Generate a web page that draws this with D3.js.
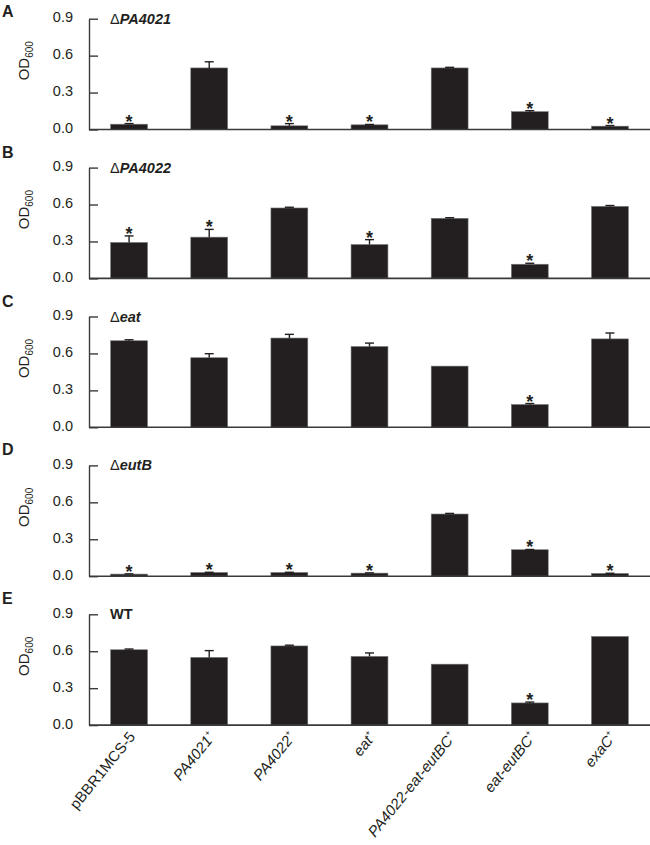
<!DOCTYPE html>
<html><head><meta charset="utf-8">
<script src="https://cdn.jsdelivr.net/npm/d3@7"></script>
<style>
body{margin:0;background:#fff;}
text{font-family:"Liberation Sans",Arial,sans-serif;fill:#231f20;}
</style></head>
<body><svg id="c" width="650" height="845"></svg>
<script>
const categories = ["pBBR1MCS-5","PA4021","PA4022","eat","PA4022-eat-eutBC","eat-eutBC","exaC"];
const panelLetters = ["A","B","C","D","E"];
const strains = ["PA4021","PA4022","eat","eutB","WT"];
const yTicks = [0.0,0.3,0.6,0.9];

const valuesA = [0.043,0.50,0.03,0.038,0.50,0.145,0.027];
const errorsA = [0.005,0.05,0.018,0.003,0.005,0.008,0.005];
const starsA  = [1,0,1,1,0,1,1];

const valuesB = [0.292,0.335,0.572,0.275,0.488,0.115,0.585];
const errorsB = [0.053,0.063,0.006,0.04,0.005,0.008,0.007];
const starsB  = [1,1,0,1,0,1,0];

const valuesC = [0.703,0.565,0.725,0.656,0.497,0.185,0.718];
const errorsC = [0.008,0.033,0.03,0.028,0,0.008,0.048];
const starsC  = [0,0,0,0,0,1,0];

const valuesD = [0.017,0.03,0.03,0.025,0.505,0.215,0.022];
const errorsD = [0.002,0.002,0.002,0.002,0.005,0.002,0.002];
const starsD  = [1,1,1,1,0,1,1];

const valuesE = [0.612,0.55,0.643,0.558,0.495,0.18,0.72];
const errorsE = [0.006,0.055,0.006,0.028,0,0.007,0];
const starsE  = [0,0,0,0,0,1,0];

const panelValues = [valuesA,valuesB,valuesC,valuesD,valuesE];
const panelErrors = [errorsA,errorsB,errorsC,errorsD,errorsE];
const panelStars  = [starsA,starsB,starsC,starsD,starsE];

const svg = d3.select("#c");
const dark = "#231f20", axisCol = "#3a3a3a";
const left = 89, right = 650, top0 = 18.7, step = 148.9, ph = 110.8;

const x = d3.scaleBand().domain(categories).range([left,right]).paddingInner(0.54).paddingOuter(0.27);

panelLetters.forEach((L,i)=>{
  const top = top0 + i*step, bottom = top + ph;
  const y = d3.scaleLinear().domain([0,0.9]).range([bottom,top]);
  const g = svg.append("g");
  const data = categories.map((c,j)=>({c, v:panelValues[i][j], e:panelErrors[i][j], s:panelStars[i][j]}));

  g.selectAll("rect.bar").data(data).enter().append("rect")
    .attr("x",d=>x(d.c)).attr("width",x.bandwidth())
    .attr("y",d=>y(d.v)).attr("height",d=>y(0)-y(d.v))
    .attr("fill",dark).attr("stroke","#777").attr("stroke-width",0.6);
  const eb = data.filter(d=>d.e>0);
  g.selectAll("line.ev").data(eb).enter().append("line")
    .attr("x1",d=>x(d.c)+x.bandwidth()/2).attr("x2",d=>x(d.c)+x.bandwidth()/2)
    .attr("y1",d=>y(d.v)).attr("y2",d=>y(d.v+d.e))
    .attr("stroke",dark).attr("stroke-width",1.4);
  g.selectAll("line.ec").data(eb).enter().append("line")
    .attr("x1",d=>x(d.c)+x.bandwidth()/2-4.5).attr("x2",d=>x(d.c)+x.bandwidth()/2+4.5)
    .attr("y1",d=>y(d.v+d.e)).attr("y2",d=>y(d.v+d.e))
    .attr("stroke",dark).attr("stroke-width",1.4);
  g.selectAll("text.star").data(data.filter(d=>d.s)).enter().append("text")
    .attr("x",d=>x(d.c)+x.bandwidth()/2).attr("y",d=>y(d.v+d.e)+4)
    .attr("text-anchor","middle").attr("font-size",18).attr("font-weight","bold").text("*");

  const ya = g.append("g").attr("transform",`translate(${left},0)`)
    .call(d3.axisLeft(y).tickValues(yTicks).tickFormat(d3.format(".1f")).tickSizeInner(-9).tickSizeOuter(0).tickPadding(16));
  ya.select(".domain").attr("stroke",axisCol).attr("stroke-width",1.4);
  ya.selectAll(".tick line").attr("stroke",axisCol).attr("stroke-width",1.4);
  ya.selectAll(".tick text").attr("font-size",14.5).attr("font-family","Liberation Sans, Arial, sans-serif").attr("fill",dark).attr("dy","0.22em");
  g.append("line").attr("x1",left).attr("x2",right).attr("y1",bottom).attr("y2",bottom)
    .attr("stroke",axisCol).attr("stroke-width",1.6);

  const yl = g.append("text").attr("transform",`translate(29,${top+42}) rotate(-90)`)
    .attr("text-anchor","middle").attr("font-size",15);
  yl.append("tspan").text("OD");
  yl.append("tspan").attr("font-size",10).attr("dy",4).text("600");

  g.append("text").attr("x",2).attr("y", i===0 ? 16.8 : top-10)
    .attr("font-size",16).attr("font-weight","bold").text(L);

  const t = g.append("text").attr("x",110).attr("y",top+5).attr("font-size",14.5);
  if (strains[i]==="WT") {
    t.append("tspan").attr("font-weight","bold").text("WT");
  } else {
    t.append("tspan").text("\u0394");
    t.append("tspan").attr("font-weight","bold").attr("font-style","italic").text(strains[i]);
  }

  if (i===panelLetters.length-1) {
    categories.forEach((c,j)=>{
      const cx = x(c)+x.bandwidth()/2;
      const lt = g.append("text").attr("transform",`translate(${cx+7},${bottom+12}) rotate(-51)`)
        .attr("text-anchor","end").attr("font-size",15);
      if (j===0) { lt.append("tspan").text(c); }
      else {
        lt.append("tspan").attr("font-style","italic").text(c);
        lt.append("tspan").attr("font-size",8.5).attr("dy",-6.5).text("+");
      }
    });
  }
});
</script></body></html>
